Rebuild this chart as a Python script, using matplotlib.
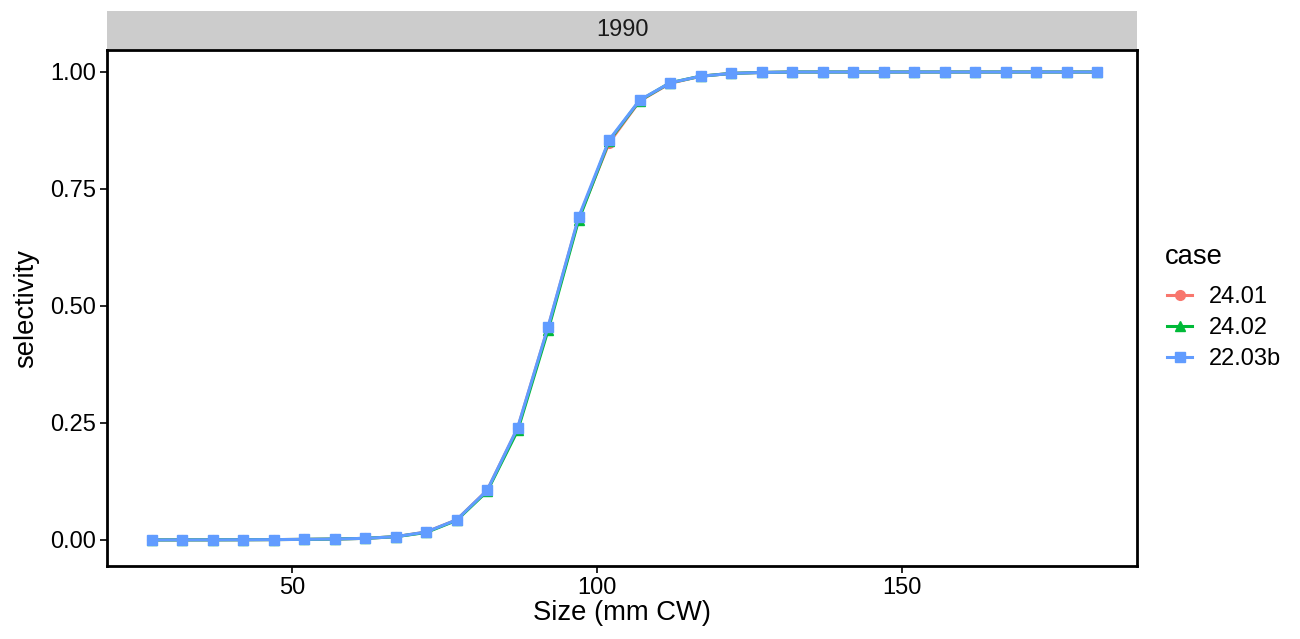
import numpy as np
import matplotlib.pyplot as plt
from matplotlib.lines import Line2D

plt.rcParams['font.family'] = ['Liberation Sans', 'DejaVu Sans']

size = np.arange(27, 183, 5)

sel_2401 = [0.0001, 0.0002, 0.0003, 0.0005, 0.0008, 0.0013, 0.002, 0.0035,
            0.007, 0.017, 0.043, 0.106, 0.239, 0.455, 0.688, 0.849,
            0.938, 0.976, 0.991, 0.997, 0.999, 1.0, 1.0, 1.0,
            1.0, 1.0, 1.0, 1.0, 1.0, 1.0, 1.0, 1.0]
sel_2402 = [0.0001, 0.0002, 0.0003, 0.0005, 0.0008, 0.0013, 0.002, 0.0035,
            0.007, 0.016, 0.042, 0.104, 0.234, 0.449, 0.684, 0.853,
            0.939, 0.977, 0.991, 0.997, 0.999, 1.0, 1.0, 1.0,
            1.0, 1.0, 1.0, 1.0, 1.0, 1.0, 1.0, 1.0]
sel_2203b = [0.0001, 0.0002, 0.0003, 0.0005, 0.0008, 0.0013, 0.002, 0.0035,
             0.007, 0.017, 0.043, 0.106, 0.240, 0.456, 0.690, 0.855,
             0.940, 0.977, 0.991, 0.997, 0.999, 1.0, 1.0, 1.0,
             1.0, 1.0, 1.0, 1.0, 1.0, 1.0, 1.0, 1.0]

cases = ["24.01", "24.02", "22.03b"]
series = [sel_2401, sel_2402, sel_2203b]
colors = ["#F8766D", "#00BA38", "#619CFF"]
markers = ["o", "^", "s"]
msizes = [7, 7.8, 7.5]

fig = plt.figure(figsize=(13, 6.39), dpi=100)
ax = fig.add_axes([107/1300, 73/639, 1030/1300, 516/639])
strip = fig.add_axes([107/1300, 590/639, 1030/1300, 38/639])

for c, y, col, m, ms in zip(cases, series, colors, markers, msizes):
    ax.plot(size, y, color=col, lw=2.2, marker=m, ms=ms, label=c)

ax.set_xlim(19.7, 188.5)
ax.set_ylim(-0.0556, 1.047)
ax.set_xticks([50, 100, 150])
ax.set_yticks([0, 0.25, 0.5, 0.75, 1.0])
ax.set_yticklabels(["0.00", "0.25", "0.50", "0.75", "1.00"])
ax.tick_params(labelsize=17, length=5, width=1.2, colors="black", pad=3)
for s in ax.spines.values():
    s.set_linewidth(2)
    s.set_color("black")
ax.set_xlabel("Size (mm CW)", fontsize=19.7, labelpad=1)
ax.set_ylabel("selectivity", fontsize=19.7, labelpad=8)

strip.set_facecolor("#CCCCCC")
strip.set_xticks([])
strip.set_yticks([])
for s in strip.spines.values():
    s.set_visible(False)
strip.text(0.5, 0.5, "1990", ha="center", va="center", fontsize=17,
           color="#1A1A1A", transform=strip.transAxes)

# legend: title drawn separately to get the ggplot-like gap
fig.text(1165/1300, 1 - 257/639, "case", fontsize=19.7, va="center", ha="left")
handles = [Line2D([], [], color=col, lw=2.2, marker=m, ms=ms)
           for col, m, ms in zip(colors, markers, msizes)]
fig.legend(handles, cases, loc="upper left",
           bbox_to_anchor=(1167/1300, 1 - 286.5/639), frameon=False,
           fontsize=17, handlelength=1.06, handletextpad=0.72,
           labelspacing=0.38, borderpad=0, borderaxespad=0)

fig.savefig("out.png", dpi=100)
